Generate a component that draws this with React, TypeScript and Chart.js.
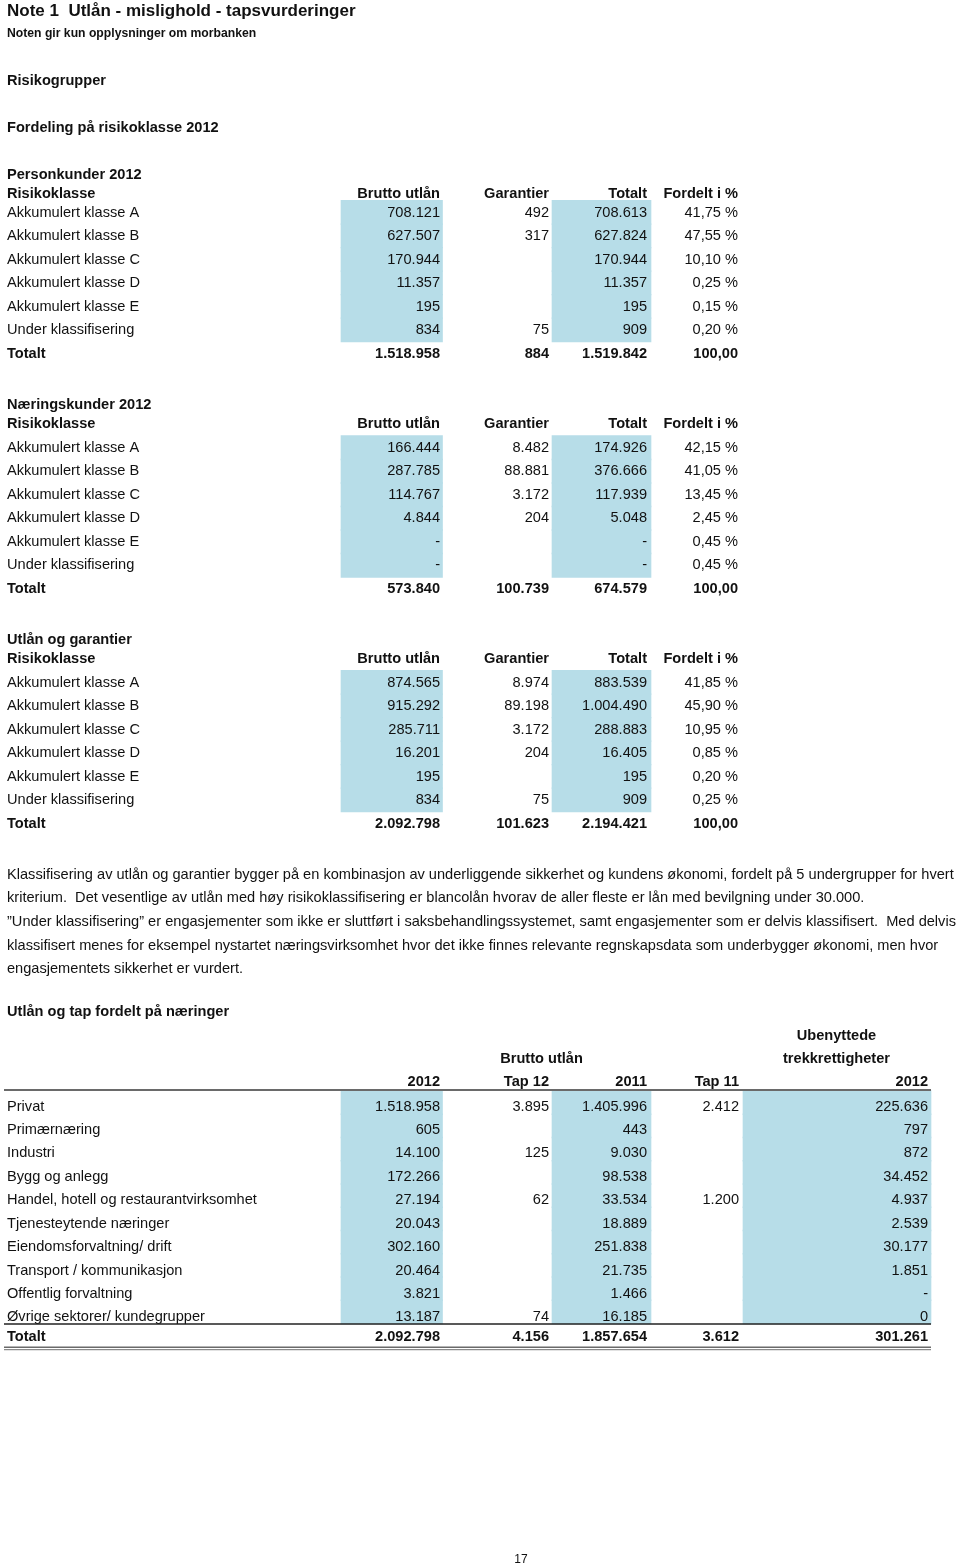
import React, { useEffect, useRef } from 'react';
import { Chart, registerables } from 'chart.js';
Chart.register(...registerables);

// ---------------- DATA ----------------
const pageTitle = 'Note 1  Utlån - mislighold - tapsvurderinger';
const pageSubtitle = 'Noten gir kun opplysninger om morbanken';
const headingGroups = 'Risikogrupper';
const headingDistribution = 'Fordeling på risikoklasse 2012';

const riskHeader = 'Risikoklasse';
const riskColumns = ['Brutto utlån', 'Garantier', 'Totalt', 'Fordelt i %'];
const riskClasses = [
  'Akkumulert klasse A',
  'Akkumulert klasse B',
  'Akkumulert klasse C',
  'Akkumulert klasse D',
  'Akkumulert klasse E',
  'Under klassifisering',
];
const totalLabel = 'Totalt';

const personTitle = 'Personkunder 2012';
const personBrutto = ['708.121', '627.507', '170.944', '11.357', '195', '834'];
const personGarantier = ['492', '317', '', '', '', '75'];
const personTotalt = ['708.613', '627.824', '170.944', '11.357', '195', '909'];
const personFordelt = ['41,75 %', '47,55 %', '10,10 %', '0,25 %', '0,15 %', '0,20 %'];
const personSum = ['1.518.958', '884', '1.519.842', '100,00'];

const naeringTitle = 'Næringskunder 2012';
const naeringBrutto = ['166.444', '287.785', '114.767', '4.844', '-', '-'];
const naeringGarantier = ['8.482', '88.881', '3.172', '204', '', ''];
const naeringTotalt = ['174.926', '376.666', '117.939', '5.048', '-', '-'];
const naeringFordelt = ['42,15 %', '41,05 %', '13,45 %', '2,45 %', '0,45 %', '0,45 %'];
const naeringSum = ['573.840', '100.739', '674.579', '100,00'];

const samletTitle = 'Utlån og garantier';
const samletBrutto = ['874.565', '915.292', '285.711', '16.201', '195', '834'];
const samletGarantier = ['8.974', '89.198', '3.172', '204', '', '75'];
const samletTotalt = ['883.539', '1.004.490', '288.883', '16.405', '195', '909'];
const samletFordelt = ['41,85 %', '45,90 %', '10,95 %', '0,85 %', '0,20 %', '0,25 %'];
const samletSum = ['2.092.798', '101.623', '2.194.421', '100,00'];

const noteLines = [
  'Klassifisering av utlån og garantier bygger på en kombinasjon av underliggende sikkerhet og kundens økonomi, fordelt på 5 undergrupper for hvert',
  'kriterium.  Det vesentlige av utlån med høy risikoklassifisering er blancolån hvorav de aller fleste er lån med bevilgning under 30.000.',
  '”Under klassifisering” er engasjementer som ikke er sluttført i saksbehandlingssystemet, samt engasjementer som er delvis klassifisert.  Med delvis',
  'klassifisert menes for eksempel nystartet næringsvirksomhet hvor det ikke finnes relevante regnskapsdata som underbygger økonomi, men hvor',
  'engasjementets sikkerhet er vurdert.',
];

const sectorTitle = 'Utlån og tap fordelt på næringer';
const sectorGroupBrutto = 'Brutto utlån';
const sectorGroupUnused = ['Ubenyttede', 'trekkrettigheter'];
const sectorColumns = ['2012', 'Tap 12', '2011', 'Tap 11', '2012'];
const sectors = [
  'Privat',
  'Primærnæring',
  'Industri',
  'Bygg og anlegg',
  'Handel, hotell og restaurantvirksomhet',
  'Tjenesteytende næringer',
  'Eiendomsforvaltning/ drift',
  'Transport / kommunikasjon',
  'Offentlig forvaltning',
  'Øvrige sektorer/ kundegrupper',
];
const sectorBrutto2012 = ['1.518.958', '605', '14.100', '172.266', '27.194', '20.043', '302.160', '20.464', '3.821', '13.187'];
const sectorTap12 = ['3.895', '', '125', '', '62', '', '', '', '', '74'];
const sectorBrutto2011 = ['1.405.996', '443', '9.030', '98.538', '33.534', '18.889', '251.838', '21.735', '1.466', '16.185'];
const sectorTap11 = ['2.412', '', '', '', '1.200', '', '', '', '', ''];
const sectorUnused2012 = ['225.636', '797', '872', '34.452', '4.937', '2.539', '30.177', '1.851', '-', '0'];
const sectorSum = ['2.092.798', '4.156', '1.857.654', '3.612', '301.261'];

const pageNumber = '17';

// ---------------- LAYOUT / STYLE ----------------
const W = 960;
const H = 1566;
const FONT = '"Liberation Sans", Arial, Helvetica, sans-serif';
const REG = `14.6px ${FONT}`;
const BOLD = `bold 14.6px ${FONT}`;
const BLUE = '#b7dde8';
const INK = '#111111';
const BASE = 5.5; // centre -> baseline
const labelX = 7;
const colRight = [440, 549, 647, 738];
const sectorRight = [440, 549, 647, 739, 928];
const blueRanges = [[341, 442.5], [552, 651], [743, 931]];

const riskTables = [
  { title: personTitle, brutto: personBrutto, gar: personGarantier, tot: personTotalt, pct: personFordelt, sum: personSum,
    titleY: 173, headY: 192, rowY: 211, totalY: 352, blueTop: 200.7 },
  { title: naeringTitle, brutto: naeringBrutto, gar: naeringGarantier, tot: naeringTotalt, pct: naeringFordelt, sum: naeringSum,
    titleY: 403, headY: 422, rowY: 446, totalY: 587, blueTop: 436 },
  { title: samletTitle, brutto: samletBrutto, gar: samletGarantier, tot: samletTotalt, pct: samletFordelt, sum: samletSum,
    titleY: 638, headY: 657, rowY: 681, totalY: 822, blueTop: 670.7 },
];
const riskRowH = 23.5;

const sectorRowY = 1105;
const sectorRowH = 23.44;
const sectorBlueTop = 1091;
const sectorBlueH = 23.25;

function buildDatasets() {
  const ds: any[] = [];
  riskTables.forEach((t) => {
    [0, 1].forEach((b) => {
      ds.push({
        data: riskClasses.map((_, i) => ({ y: t.blueTop + riskRowH * (i + 0.5), x: blueRanges[b] })),
        backgroundColor: BLUE,
        borderWidth: 0,
        barThickness: riskRowH + 0.6,
      });
    });
  });
  [0, 1, 2].forEach((b) => {
    ds.push({
      data: sectors.map((_, i) => ({ y: sectorBlueTop + sectorBlueH * (i + 0.5), x: blueRanges[b] })),
      backgroundColor: BLUE,
      borderWidth: 0,
      barThickness: sectorBlueH + 0.6,
    });
  });
  return ds;
}

const textPlugin = {
  id: 'pageText',
  beforeDraw(chart: any) {
    const c = chart.ctx;
    c.save();
    c.fillStyle = '#ffffff';
    c.fillRect(0, 0, chart.width, chart.height);
    c.restore();
  },
  afterDatasetsDraw(chart: any) {
    const c = chart.ctx;
    const sx = chart.scales.x;
    const sy = chart.scales.y;
    const px = (v: number) => sx.getPixelForValue(v);
    const py = (v: number) => sy.getPixelForValue(v);
    const text = (s: string, x: number, yc: number, align: CanvasTextAlign, font: string, base = BASE) => {
      if (!s) return;
      c.font = font;
      c.textAlign = align;
      c.textBaseline = 'alphabetic';
      c.fillStyle = INK;
      c.fillText(s, px(x), py(yc + base));
    };
    const hline = (x0: number, x1: number, y: number, w: number, col: string) => {
      c.beginPath();
      c.strokeStyle = col;
      c.lineWidth = w;
      c.moveTo(px(x0), py(y));
      c.lineTo(px(x1), py(y));
      c.stroke();
    };
    c.save();
    text(pageTitle, labelX, 10, 'left', `bold 17px ${FONT}`, 6);
    text(pageSubtitle, labelX, 33, 'left', `bold 12.2px ${FONT}`, 4.3);
    text(headingGroups, labelX, 79, 'left', BOLD);
    text(headingDistribution, labelX, 126, 'left', BOLD);

    riskTables.forEach((t) => {
      text(t.title, labelX, t.titleY, 'left', BOLD);
      text(riskHeader, labelX, t.headY, 'left', BOLD);
      riskColumns.forEach((h, j) => text(h, colRight[j], t.headY, 'right', BOLD));
      riskClasses.forEach((r, i) => {
        const y = t.rowY + riskRowH * i;
        text(r, labelX, y, 'left', REG);
        text(t.brutto[i], colRight[0], y, 'right', REG);
        text(t.gar[i], colRight[1], y, 'right', REG);
        text(t.tot[i], colRight[2], y, 'right', REG);
        text(t.pct[i], colRight[3], y, 'right', REG);
      });
      text(totalLabel, labelX, t.totalY, 'left', BOLD);
      t.sum.forEach((s, j) => text(s, colRight[j], t.totalY, 'right', BOLD));
    });

    noteLines.forEach((l, i) => text(l, labelX, 873 + 23.7 * i, 'left', REG));

    text(sectorTitle, labelX, 1010, 'left', BOLD);
    text(sectorGroupUnused[0], 836.5, 1034, 'center', BOLD);
    text(sectorGroupBrutto, 541.5, 1057, 'center', BOLD);
    text(sectorGroupUnused[1], 836.5, 1057, 'center', BOLD);
    sectorColumns.forEach((h, j) => text(h, sectorRight[j], 1080, 'right', BOLD));
    const cols = [sectorBrutto2012, sectorTap12, sectorBrutto2011, sectorTap11, sectorUnused2012];
    sectors.forEach((s, i) => {
      const y = sectorRowY + sectorRowH * i;
      text(s, labelX, y, 'left', REG);
      cols.forEach((col, j) => text(col[i], sectorRight[j], y, 'right', REG));
    });
    text(totalLabel, labelX, 1335.5, 'left', BOLD);
    sectorSum.forEach((s, j) => text(s, sectorRight[j], 1335.5, 'right', BOLD));

    hline(4, 931, 1090, 2.2, '#6a6a6a');
    hline(4, 931, 1324, 1.3, '#222222');
    hline(4, 931, 1347.2, 1.4, '#6a6a6a');
    hline(4, 931, 1349.6, 1.4, '#8a8a8a');

    text(pageNumber, 521, 1559, 'center', `12px ${FONT}`, 4.3);
    c.restore();
  },
};

export default function App() {
  const ref = useRef<HTMLCanvasElement | null>(null);
  useEffect(() => {
    document.body.style.margin = '0';
    const canvas = ref.current;
    if (!canvas) return;
    const chart = new Chart(canvas, {
      type: 'bar',
      data: { datasets: buildDatasets() },
      options: {
        indexAxis: 'y',
        responsive: false,
        maintainAspectRatio: false,
        animation: false,
        devicePixelRatio: 1,
        layout: { padding: 0 },
        datasets: { bar: { grouped: false } } as any,
        plugins: { legend: { display: false }, tooltip: { enabled: false }, title: { display: false } },
        events: [],
        scales: {
          x: { type: 'linear', min: 0, max: W, display: false, offset: false, grace: 0 },
          y: { type: 'linear', min: 0, max: H, reverse: true, display: false, offset: false, grace: 0 },
        },
      },
      plugins: [textPlugin],
    });
    return () => chart.destroy();
  }, []);
  return (
    <div style={{ width: W, height: H, overflow: 'hidden' }}>
      <canvas ref={ref} width={W} height={H} style={{ display: 'block', width: W, height: H }} />
    </div>
  );
}
